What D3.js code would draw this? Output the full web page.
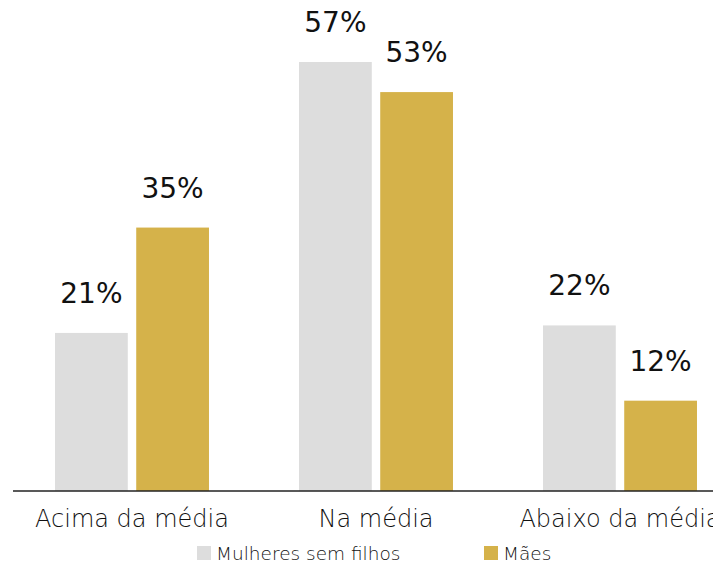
<!DOCTYPE html>
<html>
<head>
<meta charset="utf-8">
<script src="https://cdn.jsdelivr.net/npm/d3@7"></script>
<style>
  body { margin: 0; background: #fff; }
  #chart svg { display: block; }
  text { font-family: "DejaVu Sans", sans-serif; fill: #111; }
</style>
</head>
<body>
<div id="chart"></div>
<script>
// data
const categories = ["Acima da média", "Na média", "Abaixo da média"];
const seriesNames = ["Mulheres sem filhos", "Mães"];
const semFilhos = [21, 57, 22];
const maes = [35, 53, 12];
const colors = ["#dddddd", "#d5b24a"];

const width = 713;
const height = 567;

const rows = categories.map((c, i) => ({
  category: c,
  values: [
    { series: seriesNames[0], value: semFilhos[i] },
    { series: seriesNames[1], value: maes[i] },
  ],
}));

const svg = d3
  .select("#chart")
  .append("svg")
  .attr("width", width)
  .attr("height", height);

// outer band for the groups, inner band for the two series
const x0 = d3
  .scaleBand()
  .domain(categories)
  .range([10, 742])
  .paddingInner(0.369)
  .paddingOuter(0.1845);

const x1 = d3
  .scaleBand()
  .domain(seriesNames)
  .range([0, x0.bandwidth()])
  .paddingInner(0.104)
  .paddingOuter(0);

const y = d3.scaleLinear().domain([0, 60]).range([491, 39.4]);

const color = d3.scaleOrdinal().domain(seriesNames).range(colors);

const groups = svg
  .selectAll("g.group")
  .data(rows)
  .enter()
  .append("g")
  .attr("class", "group")
  .attr("transform", (d) => `translate(${x0(d.category)},0)`);

groups
  .selectAll("rect")
  .data((d) => d.values)
  .enter()
  .append("rect")
  .attr("x", (d) => x1(d.series))
  .attr("y", (d) => y(d.value))
  .attr("width", x1.bandwidth())
  .attr("height", (d) => y(0) - y(d.value))
  .attr("fill", (d) => color(d.series));

// value labels above bars
groups
  .selectAll("text.value")
  .data((d) => d.values)
  .enter()
  .append("text")
  .attr("class", "value")
  .attr("x", (d) => x1(d.series) + x1.bandwidth() / 2)
  .attr("y", (d) => y(d.value) - 30)
  .attr("text-anchor", "middle")
  .style("font-size", "28px")
  .text((d) => d.value + "%");

// x axis: baseline and category labels
const axis = svg
  .append("g")
  .attr("transform", `translate(0,${y(0)})`)
  .call(d3.axisBottom(x0).tickSize(0).tickPadding(19));

axis.select(".domain").attr("d", `M13,0H${width}`).attr("stroke", "#222").attr("stroke-width", 1.5);
axis
  .selectAll(".tick text")
  .style("font-size", "24px")
  .style("font-weight", 200)
  .style("font-family", "'DejaVu Sans', sans-serif")
  .attr("fill", "#222");

// legend
const legendItems = [
  { name: seriesNames[0], x: 197 },
  { name: seriesNames[1], x: 484 },
];

const legend = svg
  .selectAll("g.legend")
  .data(legendItems)
  .enter()
  .append("g")
  .attr("class", "legend")
  .attr("transform", (d) => `translate(${d.x},546)`);

legend
  .append("rect")
  .attr("width", 14)
  .attr("height", 14)
  .attr("fill", (d) => color(d.name));

legend
  .append("text")
  .attr("x", 19)
  .attr("y", 14)
  .style("font-size", "18.5px")
  .style("font-weight", 200)
  .attr("fill", "#222")
  .text((d) => d.name);
</script>
</body>
</html>
